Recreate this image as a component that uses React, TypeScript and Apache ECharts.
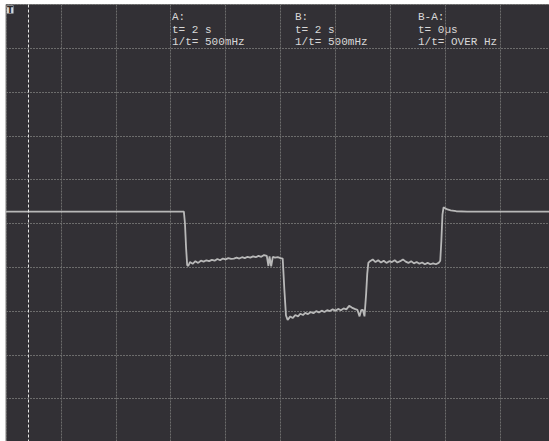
import React, { useEffect, useRef } from "react";
import * as echarts from "echarts";

// Oscilloscope screen: x in time divisions (0..10), y in vertical divisions (-5..5)
const timeDiv = [
  0, 3.24, 3.26, 3.28, 3.3, 3.32,
  3.35, 3.4, 3.45, 3.5, 3.55, 3.6, 3.65, 3.7, 3.75, 3.8, 3.85, 3.9, 3.95, 4.0, 4.05, 4.1, 4.15, 4.2, 4.25, 4.3, 4.35, 4.4, 4.45, 4.5, 4.55, 4.6, 4.65, 4.7, 4.75, 4.78, 4.8, 4.83, 4.86, 4.9, 4.95, 5.0, 5.04,
  5.07, 5.1,
  5.13, 5.18, 5.22, 5.27, 5.32, 5.36, 5.41, 5.45, 5.5, 5.55, 5.6, 5.65, 5.7, 5.75, 5.8, 5.85, 5.9, 5.95, 6.0, 6.05, 6.1, 6.15, 6.2, 6.25, 6.3, 6.35, 6.4, 6.44, 6.47, 6.5, 6.53,
  6.56, 6.58, 6.6,
  6.63, 6.68, 6.73, 6.78, 6.83, 6.88, 6.93, 6.98, 7.03, 7.08, 7.13, 7.18, 7.23, 7.28, 7.33, 7.38, 7.43, 7.48, 7.53, 7.58, 7.63, 7.68, 7.73, 7.78, 7.83, 7.88, 7.91,
  7.93, 7.95, 7.97, 8.0, 8.04, 8.1, 8.2, 8.4, 10,
];

const levelDiv = [
  0.27, 0.27, 0.0, -0.55, -0.95, -0.97,
  -0.88, -0.92, -0.86, -0.9, -0.85, -0.87, -0.84, -0.86, -0.83, -0.85, -0.81, -0.84, -0.8, -0.82, -0.79, -0.81, -0.8, -0.78, -0.8, -0.77, -0.79, -0.76, -0.78, -0.75, -0.77, -0.74, -0.76, -0.72, -0.74, -0.97, -0.75, -0.98, -0.76, -0.78, -0.77, -0.79, -0.8,
  -1.5, -2.1,
  -2.2, -2.12, -2.16, -2.09, -2.12, -2.06, -2.09, -2.04, -2.07, -2.02, -2.05, -2.0, -2.03, -1.99, -2.02, -1.98, -2.0, -1.96, -1.99, -1.95, -1.98, -1.94, -1.96, -1.88, -1.92, -1.95, -1.97, -2.12, -1.98, -1.97, -2.12,
  -1.6, -1.15, -0.9,
  -0.86, -0.82, -0.88, -0.84, -0.89, -0.85, -0.9, -0.86, -0.88, -0.84, -0.89, -0.86, -0.82, -0.87, -0.9, -0.86, -0.91, -0.88, -0.92, -0.89, -0.93, -0.9, -0.93, -0.91, -0.93, -0.9, -0.85,
  -0.4, 0.2, 0.37, 0.35, 0.32, 0.3, 0.28, 0.27, 0.27,
];

const triggerPos = [0.4];

const readoutA = ["A:", "t= 2 s", "1/t= 500mHz"];
const readoutB = ["B:", "t= 2 s", "1/t= 500mHz"];
const readoutBA = ["B-A:", "t= 0µs", "1/t= OVER Hz"];
const readoutX = [172, 295, 418];

export default function App() {
  const ref = useRef<HTMLDivElement>(null);
  useEffect(() => {
    if (!ref.current) return;
    const chart = echarts.init(ref.current, undefined, { renderer: "svg" });
    const data = timeDiv.map((t, i) => [t, levelDiv[i]]);
    const grid = { show: true, left: 6, top: 4.5, width: 549, height: 438, backgroundColor: "#323035", borderColor: "#7a7a7a", borderWidth: 1 };
    const split = { show: true, lineStyle: { color: "#6c6c6c", width: 1, type: [2, 1] } };
    const readouts = [readoutA, readoutB, readoutBA];
    const texts: any[] = [];
    readouts.forEach((lines, i) => {
      lines.forEach((line, j) => {
        texts.push({
          type: "text",
          x: readoutX[i],
          y: 11.5 + j * 12.6,
          style: {
            text: line,
            fill: "#d8d8d8",
            fontFamily: "'Liberation Mono'",
            fontSize: 11,
            verticalAlign: "top",
          },
        });
      });
    });
    chart.setOption({
      animation: false,
      backgroundColor: "#ffffff",
      grid,
      xAxis: {
        type: "value", min: 0, max: 10, interval: 1,
        axisLabel: { show: false }, axisLine: { show: false }, axisTick: { show: false },
        splitLine: split,
      },
      yAxis: {
        type: "value", min: -5, max: 5, interval: 1,
        axisLabel: { show: false }, axisLine: { show: false }, axisTick: { show: false },
        splitLine: split,
      },
      series: [
        {
          type: "line",
          data,
          showSymbol: false,
          lineStyle: { color: "#b8b8b8", width: 1.8 },
          markLine: {
            silent: true,
            symbol: ["none", "none"],
            label: { show: false },
            lineStyle: { color: "#e6e6e6", width: 1, type: [3, 2] },
            data: triggerPos.map((v) => ({ xAxis: v })),
          },
        },
      ],
      graphic: [
        { type: "rect", shape: { x: 6.5, y: 5.5, width: 7, height: 8 }, style: { fill: "#d6d6d6" } },
        { type: "text", x: 7, y: 5.5, style: { text: "T", fill: "#2a2a2a", font: "bold 9px 'DejaVu Sans'" } },
        ...texts,
      ],
    });
    return () => chart.dispose();
  }, []);
  return (
    <div style={{ position: "fixed", left: 0, top: 0, width: 549, height: 441, overflow: "hidden", background: "#fff" }}>
      <div ref={ref} style={{ width: 560, height: 445 }} />
    </div>
  );
}
